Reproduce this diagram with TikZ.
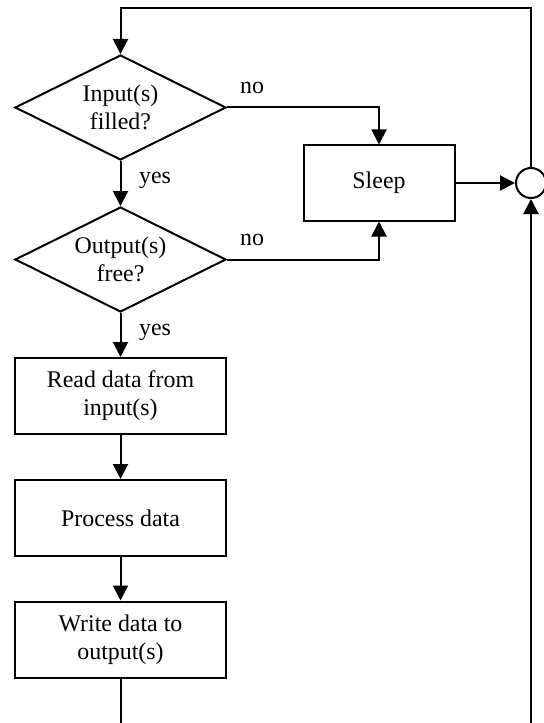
\documentclass[tikz,border=0pt]{standalone}
\usepackage{fontspec}
\setmainfont{Liberation Serif}
\usetikzlibrary{shapes.geometric,arrows.meta}
\begin{document}
\begin{tikzpicture}[x=1bp, y=-1bp, line width=2bp,
  every node/.style={font=\fontsize{23.9bp}{28bp}\selectfont},
  proc/.style={draw, rectangle, minimum width=211bp, minimum height=76bp, align=center, inner sep=0pt},
  decision/.style={draw, diamond, aspect=2, minimum width=211bp, minimum height=105bp, inner sep=0pt, align=center},
  junction/.style={draw, circle, minimum size=30bp, inner sep=0pt},
  lbl/.style={inner sep=0pt},
  arr/.style={-{Triangle[length=15bp,width=15bp]}}]

  % canvas
  \useasboundingbox (0,0) rectangle (544,723);
  \clip (0,0) rectangle (544,723);

  % nodes
  \node[decision] (inp) at (120.5,107.5) {Input(s)\\filled?};
  \node[decision] (outp) at (120.5,259.5) {Output(s)\\free?};
  \node[proc] (read) at (120.5,396) {Read data from\\input(s)};
  \node[proc] (proc) at (120.5,518) {Process data};
  \node[proc] (write) at (120.5,639.5) {Write data to\\output(s)};
  \node[proc, minimum width=151bp, minimum height=75bp] (sleep) at (379,183) {Sleep};
  \node[junction] (merge) at (531,183) {};

  % helper points of the loop
  \coordinate (topR) at (531,8);
  \coordinate (topL) at (120.5,8);
  \coordinate (botL) at (120.5,740);
  \coordinate (botR) at (531,740);

  % labels
  \node[lbl] at (252,88) {no};
  \node[lbl] at (252,240) {no};
  \node[lbl] at (155,180) {yes};
  \node[lbl] at (155,332) {yes};

  % connectors
  \draw[arr] (inp.south) -- (outp.north);
  \draw[arr] (outp.south) -- (read.north);
  \draw[arr] (read.south) -- (proc.north);
  \draw[arr] (proc.south) -- (write.north);
  \draw[arr] (inp.east) -| (sleep.north);
  \draw[arr] (outp.east) -| (sleep.south);
  \draw[arr] (sleep.east) -- (merge.west);
  \draw[arr] (merge.north) -- (topR) -- (topL) -- (inp.north);
  \draw[arr] (write.south) -- (botL) -- (botR) -- (merge.south);
\end{tikzpicture}
\end{document}
